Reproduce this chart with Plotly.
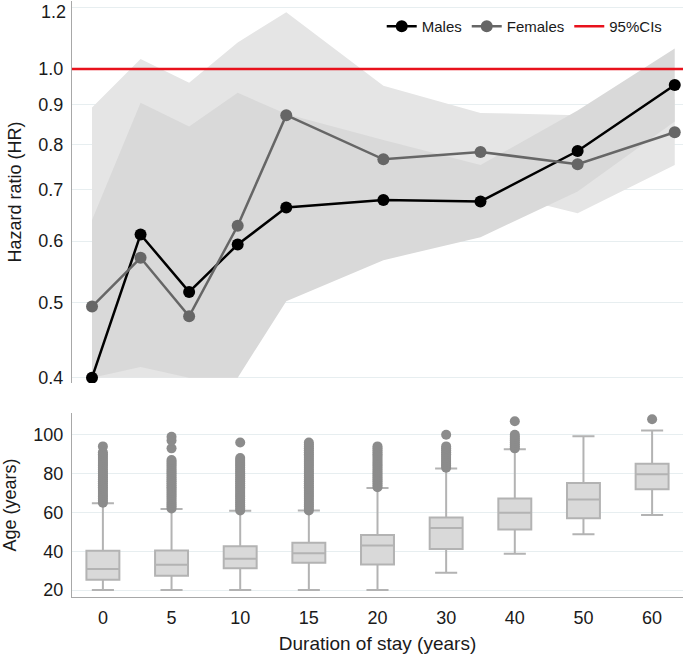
import math
import plotly.graph_objects as go

# Hazard ratios by duration of stay (top panel)
years = [0, 5, 10, 15, 20, 30, 40, 50, 60]
hr_males = [0.40, 0.612, 0.516, 0.594, 0.663, 0.678, 0.675, 0.784, 0.954]
hr_females = [0.494, 0.571, 0.480, 0.628, 0.872, 0.765, 0.782, 0.754, 0.829]

# 95% CIs (lower bounds shown clipped at the axis floor 0.4)
ci_males_lo = [0.40, 0.413, 0.40, 0.40, 0.502, 0.567, 0.607, 0.695, 0.856]
ci_males_hi = [0.639, 0.905, 0.843, 0.932, 0.875, 0.810, 0.752, 0.884, 1.063]
ci_females_lo = [0.40, 0.40, 0.40, 0.40, 0.640, 0.614, 0.700, 0.652, 0.752]
ci_females_hi = [0.892, 1.030, 0.960, 1.082, 1.184, 0.952, 0.878, 0.872, 0.914]

hr_ticks = [0.4, 0.5, 0.6, 0.7, 0.8, 0.9, 1.0, 1.2]
hr_ticktext = ["0.4", "0.5", "0.6", "0.7", "0.8", "0.9", "1.0", ""]
top_tick = 1.2  # labelled separately so it is not clipped at the top edge

# Age distribution by duration of stay (bottom panel)
stay_cats = ["0", "5", "10", "15", "20", "30", "40", "50", "60"]
age_q1 = [25.3, 27.4, 31.2, 34.0, 33.2, 41.1, 51.2, 57.0, 71.9]
age_median = [30.8, 33.0, 36.1, 38.9, 43.0, 51.9, 59.8, 66.6, 79.6]
age_q3 = [40.2, 40.3, 42.6, 44.3, 48.3, 57.4, 67.1, 75.2, 85.1]
age_lower = [20, 20, 20, 20, 20, 28.9, 38.7, 48.8, 58.6]
age_upper = [64.7, 61.8, 60.8, 61.0, 72.6, 82.6, 92.5, 99.3, 102.2]

outliers = {
    "0": [65, 66, 67, 68, 69, 70, 71, 72, 73, 74, 75, 76, 77, 78, 79, 80, 81, 82, 83, 84, 85, 86, 87, 88, 89, 90, 91, 94],
    "5": [62, 63, 64, 65, 66, 67, 68, 69, 70, 71, 72, 73, 74, 75, 76, 77, 78, 79, 80, 81, 82, 83, 84, 85, 86, 87, 93, 97, 99],
    "10": [61, 62, 63, 64, 65, 66, 67, 68, 69, 70, 71, 72, 73, 74, 75, 76, 77, 78, 79, 80, 81, 82, 83, 84, 85, 86, 87, 88, 96],
    "15": [61, 62, 63, 64, 65, 66, 67, 68, 69, 70, 71, 72, 73, 74, 75, 76, 77, 78, 79, 80, 81, 82, 83, 84, 85, 86, 87, 88, 89, 90, 91, 92, 93, 94, 95, 96],
    "20": [73, 74, 75, 76, 77, 78, 79, 80, 81, 82, 83, 84, 85, 86, 87, 88, 89, 90, 91, 92, 93, 94],
    "30": [83, 84, 85, 86, 87, 88, 89, 90, 91, 92, 93, 94, 100],
    "40": [93, 94, 95, 96, 97, 98, 99, 100, 107],
    "50": [],
    "60": [108],
}

FONT = "Liberation Sans, Arial, sans-serif"
GRID = "#e7eef0"
AXIS = "#a8a8a8"

fig = go.Figure()

# CI bands: females (light) behind, males (darker) in front
fig.add_trace(go.Scatter(
    x=years + years[::-1], y=ci_females_hi + ci_females_lo[::-1],
    fill="toself", fillcolor="#e5e5e5", line=dict(width=0),
    mode="lines", hoverinfo="skip", showlegend=False, xaxis="x", yaxis="y"))
fig.add_trace(go.Scatter(
    x=years + years[::-1], y=ci_males_hi + ci_males_lo[::-1],
    fill="toself", fillcolor="#d9d9d9", line=dict(width=0),
    mode="lines", hoverinfo="skip", showlegend=False, xaxis="x", yaxis="y"))

fig.add_trace(go.Scatter(
    x=years, y=hr_males, name="Males", mode="lines+markers",
    line=dict(color="#000000", width=2.5), marker=dict(size=12, color="#000000"),
    xaxis="x", yaxis="y"))
fig.add_trace(go.Scatter(
    x=years, y=hr_females, name="Females", mode="lines+markers",
    line=dict(color="#666666", width=2.5), marker=dict(size=12, color="#666666"),
    xaxis="x", yaxis="y"))
# legend entry for the red reference line
fig.add_trace(go.Scatter(
    x=[None], y=[None], name="95%CIs", mode="lines",
    line=dict(color="#e8121c", width=2.5), xaxis="x", yaxis="y"))

fig.add_shape(type="line", xref="x domain", yref="y", x0=0, x1=1, y0=1.0, y1=1.0,
              line=dict(color="#e8121c", width=2.5), layer="above")

fig.add_annotation(text=str(top_tick), xref="paper", x=0, xanchor="right", xshift=-4,
                   yref="y", y=math.log10(top_tick), yanchor="middle", yshift=-4,
                   showarrow=False, font=dict(size=18, color="#1a1a1a"))

# box plots
fig.add_trace(go.Box(
    x=stay_cats, q1=age_q1, median=age_median, q3=age_q3,
    lowerfence=age_lower, upperfence=age_upper,
    boxpoints=False, width=0.48, whiskerwidth=0.67,
    fillcolor="#d9d9d9", line=dict(color="#b3b3b3", width=2),
    showlegend=False, xaxis="x2", yaxis="y2"))

out_x = []
out_y = []
for c in stay_cats:
    out_x += [c] * len(outliers[c])
    out_y += outliers[c]
fig.add_trace(go.Scatter(
    x=out_x, y=out_y, mode="markers", marker=dict(size=10, color="#8c8c8c"),
    showlegend=False, xaxis="x2", yaxis="y2"))

fig.update_layout(
    width=685, height=661,
    margin=dict(l=72, r=2, t=1, b=64, autoexpand=False),
    paper_bgcolor="white", plot_bgcolor="white",
    font=dict(family=FONT, size=18, color="#1a1a1a"),
    showlegend=True,
    legend=dict(orientation="h", x=0.975, xanchor="right", y=0.985, yanchor="top",
                bgcolor="rgba(0,0,0,0)", font=dict(size=15), tracegroupgap=0),
    xaxis=dict(domain=[0, 1], anchor="y", range=[-2.06, 60.85], visible=False),
    yaxis=dict(domain=[0.359, 1], type="log",
               range=[math.log10(0.3937), math.log10(1.224)],
               tickvals=hr_ticks, ticktext=hr_ticktext,
               showline=True, linecolor=AXIS, linewidth=1,
               showgrid=True, gridcolor=GRID, zeroline=False,
               ticks="", ticklabelstandoff=4, automargin=False,
               title=dict(text="Hazard ratio (HR)", font=dict(size=18), standoff=12)),
    xaxis2=dict(domain=[0, 1], anchor="y2", type="category", range=[-0.45, 8.45],
                showline=True, linecolor=AXIS, linewidth=1, showgrid=False,
                ticks="", ticklabelstandoff=4, automargin=False,
                title=dict(text="Duration of stay (years)", font=dict(size=19), standoff=10)),
    yaxis2=dict(domain=[0, 0.309], range=[16.4, 111.3], tickvals=[20, 40, 60, 80, 100],
                showline=True, linecolor=AXIS, linewidth=1,
                showgrid=True, gridcolor=GRID, zeroline=False,
                ticks="", ticklabelstandoff=4, automargin=False,
                title=dict(text="Age (years)", font=dict(size=18), standoff=12)),
)

# the page body has a default 8px margin; drop it so the figure fills the window
fig.write_html("out.html", config={"displayModeBar": False},
               post_script="document.body.style.margin='0';")
